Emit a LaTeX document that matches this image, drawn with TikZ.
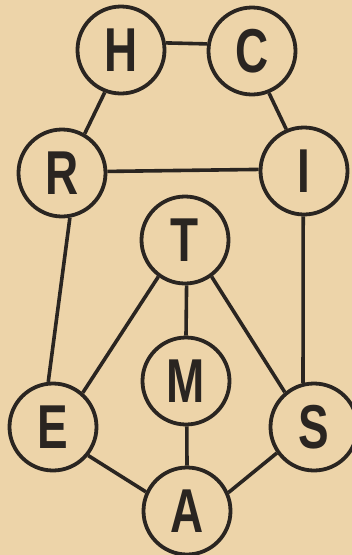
\documentclass[tikz,border=0pt]{standalone}
\usepackage{fontspec}
\setmainfont{Liberation Sans}
\definecolor{paper}{HTML}{EDD4A9}
\definecolor{ink}{HTML}{2A2521}
\tikzset{
  letternode/.style={circle,draw=ink,line width=3.8pt,minimum size=87pt,inner sep=0pt,
    text=ink,font=\fontsize{62}{62}\selectfont\bfseries},
  link/.style={draw=ink,line width=3.6pt}
}
\newcommand{\narrowletter}[1]{\scalebox{0.74}[1]{#1}}
\begin{document}
\begin{tikzpicture}[x=1pt,y=-1pt]
\fill[paper] (0,0) rectangle (352,555);
\useasboundingbox (0,0) rectangle (352,555);
\begin{scope}
\clip (0,0) rectangle (352,555);
\node[letternode] (H) at (121,50) {\narrowletter{H}};
\node[letternode] (C) at (252,51) {\narrowletter{C}};
\node[letternode] (R) at (62,173) {\narrowletter{R}};
\node[letternode] (I) at (304,171) {\narrowletter{I}};
\node[letternode] (T) at (185,240) {\narrowletter{T}};
\node[letternode] (M) at (186,381) {\narrowletter{M}};
\node[letternode] (E) at (53,427) {\narrowletter{E}};
\node[letternode] (S) at (314,427) {\narrowletter{S}};
\node[letternode] (A) at (187,511) {\narrowletter{A}};
\draw[link] (H.9) -- (C.171);
\draw[link] (H.-111) -- (R.60);
\draw[link] (C.-68) -- (I.113);
\draw[link] (R.2) -- (I.178);
\draw[link] (R.-80) -- (E.96);
\draw[link] (I.-91) -- (S.104);
\draw[link] (T.-126) -- (E.49);
\draw[link] (T.-54) -- (S.130);
\draw[link] (T.-88) -- (M.90);
\draw[link] (M.-89) -- (A.90);
\draw[link] (E.-39) -- (A.155);
\draw[link] (S.-145) -- (A.24);
\end{scope}
\end{tikzpicture}
\end{document}
